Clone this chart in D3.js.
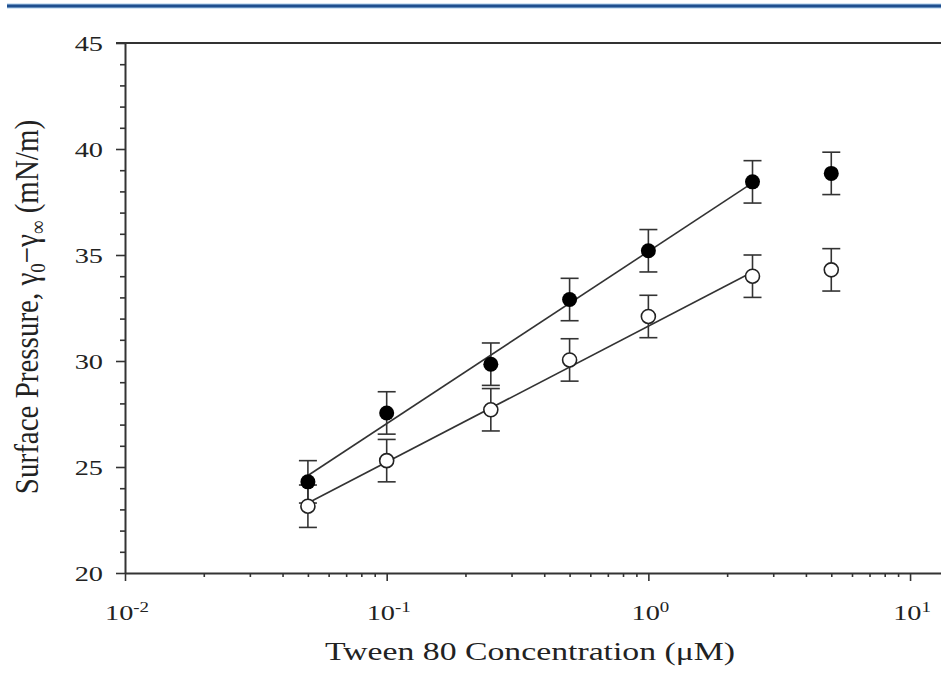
<!DOCTYPE html>
<html>
<head>
<meta charset="utf-8">
<script src="https://cdn.jsdelivr.net/npm/d3@7"></script>
<style>
  body { margin: 0; background: #fff; }
  svg { display: block; }
  text { font-family: "Liberation Serif", "DejaVu Serif", serif; fill: #222; }
</style>
</head>
<body>
<svg width="941" height="679"></svg>
<script>
// data
let conc = [0.05, 0.1, 0.25, 0.5, 1.0, 2.5, 5.0];
let filled = [24.3, 27.55, 29.85, 32.9, 35.2, 38.45, 38.85];
let open = [23.15, 25.3, 27.7, 30.05, 32.1, 34.0, 34.3];
let errFilled = [1, 1, 1, 1, 1, 1, 1];
let errOpen = [1, 1, 1, 1, 1, 1, 1];
let fitX = [0.05, 2.5];
let fitFilled = [24.6, 38.4];
let fitOpen = [23.3, 34.2];
let yMajor = [20, 25, 30, 35, 40, 45];
let xMajor = [0.01, 0.1, 1, 10];
let xExp = ["-2", "-1", "0", "1"];

let svg = d3.select("svg");
let width = +svg.attr("width");
let stretch = 1.35; // the figure's text is drawn wide

// blue rule at the top of the page
svg.append("line")
  .attr("x1", 7).attr("x2", width)
  .attr("y1", 6).attr("y2", 6)
  .attr("stroke", "#a9cbe9").attr("stroke-width", 5);
svg.append("line")
  .attr("x1", 7).attr("x2", width)
  .attr("y1", 6).attr("y2", 6)
  .attr("stroke", "#1f4f8f").attr("stroke-width", 3);

let xScale = d3.scaleLog().domain([0.01, 13.6]).range([125, 945]);
let yScale = d3.scaleLinear().domain([20, 45]).range([573, 43]);

// minor ticks
let yMinor = d3.range(20, 46, 1).filter(v => v % 5 != 0);
svg.append("g")
  .attr("transform", "translate(125,0)")
  .call(d3.axisLeft(yScale).tickValues(yMinor).tickSize(5).tickFormat(""))
  .call(g => g.select(".domain").remove());

let xMinor = [];
for (let d = 0.01; d < 10; d *= 10) {
  for (let k = 2; k <= 9; k++) xMinor.push(d * k);
}
svg.append("g")
  .attr("transform", "translate(0,573)")
  .call(d3.axisBottom(xScale).tickValues(xMinor).tickSize(4).tickFormat(""))
  .call(g => g.select(".domain").remove());

// major axes
let yAxis = svg.append("g")
  .attr("transform", "translate(125,0)")
  .call(d3.axisLeft(yScale).tickValues(yMajor).tickSize(9).tickSizeOuter(0));
yAxis.selectAll("text")
  .attr("x", 0)
  .attr("transform", "translate(-22,0) scale(" + stretch + ",1)")
  .style("font-size", "21px")
  .attr("dy", "0.34em");

let xAxis = svg.append("g")
  .attr("transform", "translate(0,573)")
  .call(d3.axisBottom(xScale).tickValues(xMajor).tickSize(8).tickSizeOuter(0).tickFormat(""));

svg.selectAll(".tick line").attr("stroke", "#333").attr("stroke-width", 1.6);
svg.selectAll(".domain").attr("stroke", "#333").attr("stroke-width", 2);

// top border
svg.append("line")
  .attr("x1", xScale(0.01) - 9).attr("x2", width)
  .attr("y1", yScale(45)).attr("y2", yScale(45))
  .attr("stroke", "#333").attr("stroke-width", 2);

// x tick labels with superscripts
xMajor.forEach(function (v, i) {
  let t = svg.append("text")
    .attr("transform", "translate(" + (xScale(v) + 2) + ",620) scale(" + stretch + ",1)")
    .attr("text-anchor", "middle")
    .style("font-size", "21px");
  t.append("tspan").text("10");
  t.append("tspan")
    .attr("dy", -8)
    .style("font-size", "14px")
    .text(xExp[i]);
});

// axis titles
svg.append("text")
  .attr("transform", "translate(530,660) scale(" + stretch + ",1)")
  .attr("text-anchor", "middle")
  .style("font-size", "25px")
  .text("Tween 80 Concentration (\u03bcM)");

let yt = svg.append("text")
  .attr("transform", "translate(38,307) rotate(-90) scale(1,1.15)")
  .attr("text-anchor", "middle")
  .style("font-size", "29px");
yt.append("tspan").text("Surface Pressure, \u03b3");
yt.append("tspan").attr("dy", 6).style("font-size", "19px").text("0");
yt.append("tspan").attr("dy", -6).text("\u2212\u03b3");
yt.append("tspan").attr("dy", 6).style("font-size", "19px").text("\u221e");
yt.append("tspan").attr("dy", -6).text(" (mN/m)");

// fitted lines
let line = d3.line()
  .x(d => xScale(d[0]))
  .y(d => yScale(d[1]));
svg.append("path")
  .attr("d", line(fitX.map((x, i) => [x, fitFilled[i]])))
  .attr("fill", "none").attr("stroke", "#333").attr("stroke-width", 1.6);
svg.append("path")
  .attr("d", line(fitX.map((x, i) => [x, fitOpen[i]])))
  .attr("fill", "none").attr("stroke", "#333").attr("stroke-width", 1.6);

// error bars
function errorBars(vals, errs) {
  let g = svg.append("g").attr("stroke", "#333").attr("stroke-width", 1.6);
  conc.forEach(function (c, i) {
    let x = xScale(c);
    let y1 = yScale(vals[i] + errs[i]);
    let y2 = yScale(vals[i] - errs[i]);
    g.append("line").attr("x1", x).attr("x2", x).attr("y1", y1).attr("y2", y2);
    g.append("line").attr("x1", x - 9).attr("x2", x + 9).attr("y1", y1).attr("y2", y1);
    g.append("line").attr("x1", x - 9).attr("x2", x + 9).attr("y1", y2).attr("y2", y2);
  });
}
errorBars(filled, errFilled);
errorBars(open, errOpen);

// markers
svg.selectAll(".filled")
  .data(filled)
  .enter()
  .append("circle")
  .attr("cx", (d, i) => xScale(conc[i]))
  .attr("cy", d => yScale(d))
  .attr("r", 7.5)
  .attr("fill", "#000");

svg.selectAll(".open")
  .data(open)
  .enter()
  .append("circle")
  .attr("cx", (d, i) => xScale(conc[i]))
  .attr("cy", d => yScale(d))
  .attr("r", 7)
  .attr("fill", "#fff")
  .attr("stroke", "#222")
  .attr("stroke-width", 1.6);
</script>
</body>
</html>
